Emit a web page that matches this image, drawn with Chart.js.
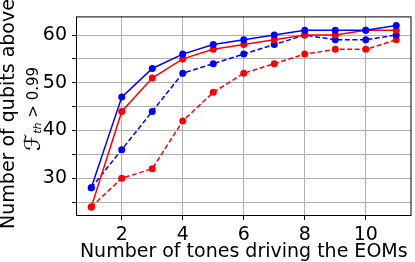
<!DOCTYPE html>
<html>
<head>
<meta charset="utf-8">
<script src="https://cdn.jsdelivr.net/npm/chart.js@4"></script>
<style>
  html, body { margin: 0; padding: 0; background: #fff; }
  #wrap { width: 415px; height: 262px; }
</style>
</head>
<body>
<div id="wrap"><canvas id="chart"></canvas></div>
<script>
const tones = [1, 2, 3, 4, 5, 6, 7, 8, 9, 10, 11];
const blueSolid = [28, 47, 53, 56, 58, 59, 60, 61, 61, 61, 62];
const redSolid = [24, 44, 51, 55, 57, 58, 59, 60, 60, 61, 61];
const blueDashed = [28, 36, 44, 52, 54, 56, 58, 60, 59, 59, 60];
const redDashed = [24, 30, 32, 42, 48, 52, 54, 56, 57, 57, 59];
const xTicks = [2, 4, 6, 8, 10];
const yTicks = [25, 30, 35, 40, 45, 50, 55, 60];

const FONT = "'DejaVu Sans', sans-serif";
const SIZE = 19;

function series(values, color, dashed) {
    return {
        data: tones.map((t, i) => ({ x: t, y: values[i] })),
        borderColor: color,
        backgroundColor: color,
        borderWidth: 1.5,
        borderDash: dashed ? [5, 2.5] : [],
        pointRadius: 3.5,
        pointHoverRadius: 3.5,
        pointBorderWidth: 0,
        tension: 0
    };
}

// frame around the plot area plus the two-line y title
const framePlugin = {
    id: "frame",
    afterDraw(chart) {
        const { ctx, chartArea: a } = chart;
        ctx.save();
        ctx.strokeStyle = "#000";
        ctx.lineWidth = 1;
        ctx.strokeRect(a.left + 0.5, a.top + 0.5, a.right - a.left - 1, a.bottom - a.top - 1);

        ctx.fillStyle = "#000";
        ctx.textAlign = "center";
        ctx.textBaseline = "middle";
        ctx.translate(9, 114);
        ctx.rotate(-Math.PI / 2);
        ctx.font = SIZE + "px " + FONT;
        ctx.fillText("Number of qubits above", 0, 0);
        ctx.restore();

        ctx.save();
        ctx.translate(34, 109);
        ctx.rotate(-Math.PI / 2);
        ctx.fillStyle = "#000";
        ctx.textBaseline = "middle";
        const big = "italic 22px 'DejaVu Serif', " + FONT;
        const small = "italic 11px " + FONT;
        const rest = "15px " + FONT;
        ctx.font = big;
        const wF = ctx.measureText("\u2131").width;
        ctx.font = small;
        const wSub = ctx.measureText("th").width;
        ctx.font = rest;
        const wRest = ctx.measureText(" > 0.99").width;
        let x = -(wF + wSub + wRest) / 2;
        ctx.textAlign = "left";
        ctx.font = big;
        ctx.fillText("\u2131", x, 0);
        x += wF;
        ctx.font = small;
        ctx.fillText("th", x, 4);
        x += wSub;
        ctx.font = rest;
        ctx.fillText(" > 0.99", x, 0);
        ctx.restore();
    }
};

new Chart(document.getElementById("chart"), {
    type: "line",
    data: {
        datasets: [
            series(blueSolid, "#0000ff", false),
            series(redSolid, "#ff0000", false),
            series(blueDashed, "#0000ff", true),
            series(redDashed, "#ff0000", true)
        ]
    },
    options: {
        responsive: true,
        maintainAspectRatio: false,
        animation: false,
        layout: { padding: { top: 3, right: 1, left: 0, bottom: 0 } },
        plugins: {
            legend: { display: false },
            tooltip: { enabled: false }
        },
        scales: {
            x: {
                type: "linear",
                min: 0.5,
                max: 11.5,
                afterBuildTicks: scale => { scale.ticks = xTicks.map(v => ({ value: v })); },
                afterFit: scale => { scale.height = 46; },
                grid: { color: "#b0b0b0", lineWidth: 1, tickLength: 4, tickColor: "#000" },
                border: { display: false },
                ticks: { color: "#000", font: { family: FONT, size: SIZE }, padding: 4, maxRotation: 0 },
                title: {
                    display: true,
                    text: "Number of tones driving the EOMs",
                    color: "#000",
                    font: { family: FONT, size: SIZE, lineHeight: 1 },
                    padding: { top: 0, bottom: 0 }
                }
            },
            y: {
                min: 22.1,
                max: 63.9,
                afterBuildTicks: scale => { scale.ticks = yTicks.map(v => ({ value: v })); },
                afterFit: scale => { scale.width = 76; },
                grid: { color: "#b0b0b0", lineWidth: 1, tickLength: 4, tickColor: "#000" },
                border: { display: false },
                ticks: {
                    color: "#000",
                    font: { family: FONT, size: SIZE },
                    padding: 5,
                    callback: v => (v % 10 === 0 ? String(v) : "")
                }
            }
        }
    },
    plugins: [framePlugin]
});
</script>
</body>
</html>
